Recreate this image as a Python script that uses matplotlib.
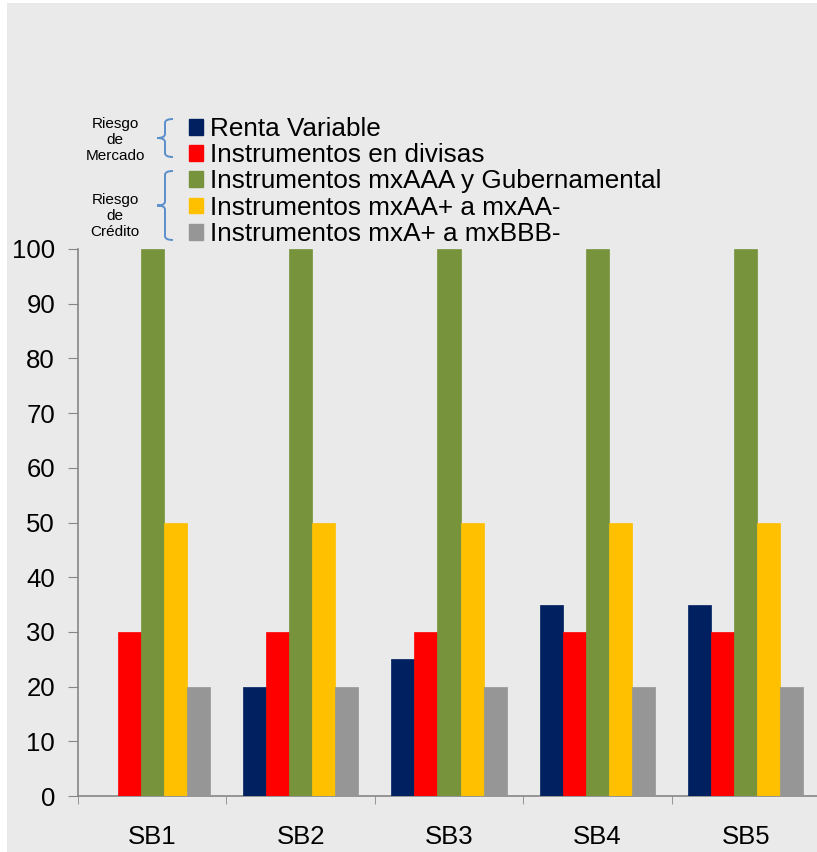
import matplotlib
matplotlib.use("Agg")
import matplotlib.pyplot as plt
import numpy as np
from matplotlib.patches import Rectangle, Patch
from matplotlib.path import Path
from matplotlib.patches import PathPatch

plt.rcParams['font.family'] = ['Liberation Sans', 'DejaVu Sans']

categories = ["SB1", "SB2", "SB3", "SB4", "SB5"]
series_names = ["Renta Variable", "Instrumentos en divisas",
                "Instrumentos mxAAA y Gubernamental",
                "Instrumentos mxAA+ a mxAA-", "Instrumentos mxA+ a mxBBB-"]
renta_variable = [0, 20, 25, 35, 35]
divisas = [30, 30, 30, 30, 30]
mxaaa = [100, 100, 100, 100, 100]
mxaa = [50, 50, 50, 50, 50]
mxa = [20, 20, 20, 20, 20]
series = [renta_variable, divisas, mxaaa, mxaa, mxa]
colors = ["#002060", "#FF0000", "#77933C", "#FFC000", "#969696"]
yticks = list(range(0, 101, 10))

W, H = 817, 852
fig = plt.figure(figsize=(W/100, H/100), dpi=100)
fig.patch.set_facecolor("white")
fig.patches.append(Rectangle((7/W, 0), 1-7/W, 1-3/H, transform=fig.transFigure,
                             facecolor="#EAEAEA", edgecolor="none", zorder=-10))

ax = fig.add_axes([78/W, 1-796/H, (820-78)/W, (796-249)/H])
ax.set_facecolor("none")
x = np.arange(len(categories))
bw = 0.155
for i, (vals, c) in enumerate(zip(series, colors)):
    ax.bar(x + (i-2)*bw, vals, width=bw, color=c, edgecolor=c, linewidth=0.5,
           label=series_names[i], zorder=3)

ax.set_xlim(-0.5, len(categories)-0.5)
ax.set_ylim(0, 100)
ax.set_yticks(yticks)
ax.set_yticklabels([str(t) for t in yticks], fontsize=18.5)
ax.set_xticks(x)
ax.set_xticklabels(categories, fontsize=18.5)
ax.set_xticks(np.arange(-0.5, len(categories), 1), minor=True)
ax.tick_params(axis='x', which='major', length=0, pad=21)
ax.tick_params(axis='x', which='minor', length=6, color="#868686", direction='out')
ax.tick_params(axis='y', length=7, color="#868686", direction='out', pad=9.5)
for s in ["top", "right"]:
    ax.spines[s].set_visible(False)
for s in ["left", "bottom"]:
    ax.spines[s].set_color("#868686")
    ax.spines[s].set_linewidth(1.2)

# legend
handles = [Patch(facecolor=c, edgecolor=c) for c in colors]
leg = fig.legend(handles, series_names, loc="upper left",
                 bbox_to_anchor=(189/W, 1-117/H), frameon=False,
                 fontsize=18.8, handlelength=0.55, handleheight=0.55,
                 handletextpad=0.25, labelspacing=0.085, borderaxespad=0,
                 borderpad=0)

# group labels
fig.text(115/W, 1-140/H, "Riesgo\nde\nMercado", ha="center", va="center",
         fontsize=11, linespacing=1.15)
fig.text(115/W, 1-216/H, "Riesgo\nde\nCrédito", ha="center", va="center",
         fontsize=11, linespacing=1.15)

def brace(x0, y0, y1):
    xm = x0 - 8
    xl = x0 - 16
    ym = (y0 + y1) / 2
    pts = [(x0, y0), (xm, y0), (xm, y0 + 4), (xm, ym - 4), (xm, ym), (xl, ym),
           (xm, ym), (xm, ym + 4), (xm, y1 - 4), (xm, y1), (x0, y1)]
    codes = [Path.MOVETO, Path.CURVE3, Path.CURVE3, Path.LINETO, Path.CURVE3, Path.CURVE3,
             Path.CURVE3, Path.CURVE3, Path.LINETO, Path.CURVE3, Path.CURVE3]
    verts = [(px/W, 1-py/H) for px, py in pts]
    p = PathPatch(Path(verts, codes), transform=fig.transFigure, fill=False,
                  edgecolor="#5B8FCB", linewidth=1.4)
    fig.patches.append(p)

brace(173, 119, 157)
brace(173, 171, 240)

fig.savefig("out.png", dpi=100)
